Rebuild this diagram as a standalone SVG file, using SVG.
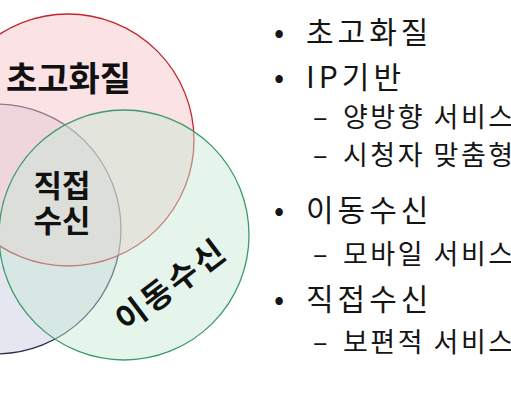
<svg xmlns="http://www.w3.org/2000/svg" width="511" height="400" viewBox="0 0 511 400">
<style>
.c{stroke-width:1.3}
.lbl{font-family:"Noto Sans CJK KR","Noto Sans",sans-serif;font-weight:bold;fill:#111}
.l1{font-family:"Noto Sans CJK KR","Noto Sans",sans-serif;font-size:30px;fill:#151515;letter-spacing:4px}
.l2{font-family:"Noto Sans CJK KR","Noto Sans",sans-serif;font-size:27px;fill:#151515;letter-spacing:2.5px}
</style>
<rect width="511" height="400" fill="#ffffff"/>
<g id="circle-direct">
<circle class="c" cx="-4" cy="229" r="125" fill="#cdcde1" fill-opacity="0.5" stroke="#2b2b4e"/>
</g>
<g id="circle-uhd">
<circle class="c" cx="68" cy="140" r="126" fill="#f7c5c9" fill-opacity="0.5" stroke="#c0262c"/>
</g>
<g id="circle-mobile">
<circle class="c" cx="124" cy="235" r="125" fill="#c5e9d5" fill-opacity="0.45" stroke="#3c9a6c"/>
</g>
<g id="labels">
<text class="lbl" x="6" y="91" font-size="34">초고화질</text>
<text class="lbl" font-size="31" text-anchor="middle"><tspan x="62" y="197">직접</tspan><tspan x="62" y="232">수신</tspan></text>
<text class="lbl" font-size="32" letter-spacing="3" text-anchor="middle" transform="translate(178,294) rotate(-37)">이동수신</text>
</g>
<g id="bullets">
<text class="l1" x="274" y="43">•</text>
<text class="l1" x="306" y="43">초고화질</text>
<text class="l1" x="274" y="88">•</text>
<text class="l1" x="306" y="88">IP기반</text>
<text class="l2" x="313" y="127">–</text>
<text class="l2" x="343" y="127">양방향 서비스</text>
<text class="l2" x="313" y="165">–</text>
<text class="l2" x="343" y="165">시청자 맞춤형</text>
<text class="l1" x="274" y="221">•</text>
<text class="l1" x="306" y="221">이동수신</text>
<text class="l2" x="313" y="264">–</text>
<text class="l2" x="343" y="264">모바일 서비스</text>
<text class="l1" x="274" y="310">•</text>
<text class="l1" x="306" y="310">직접수신</text>
<text class="l2" x="313" y="352">–</text>
<text class="l2" x="343" y="352">보편적 서비스</text>
</g>
</svg>
